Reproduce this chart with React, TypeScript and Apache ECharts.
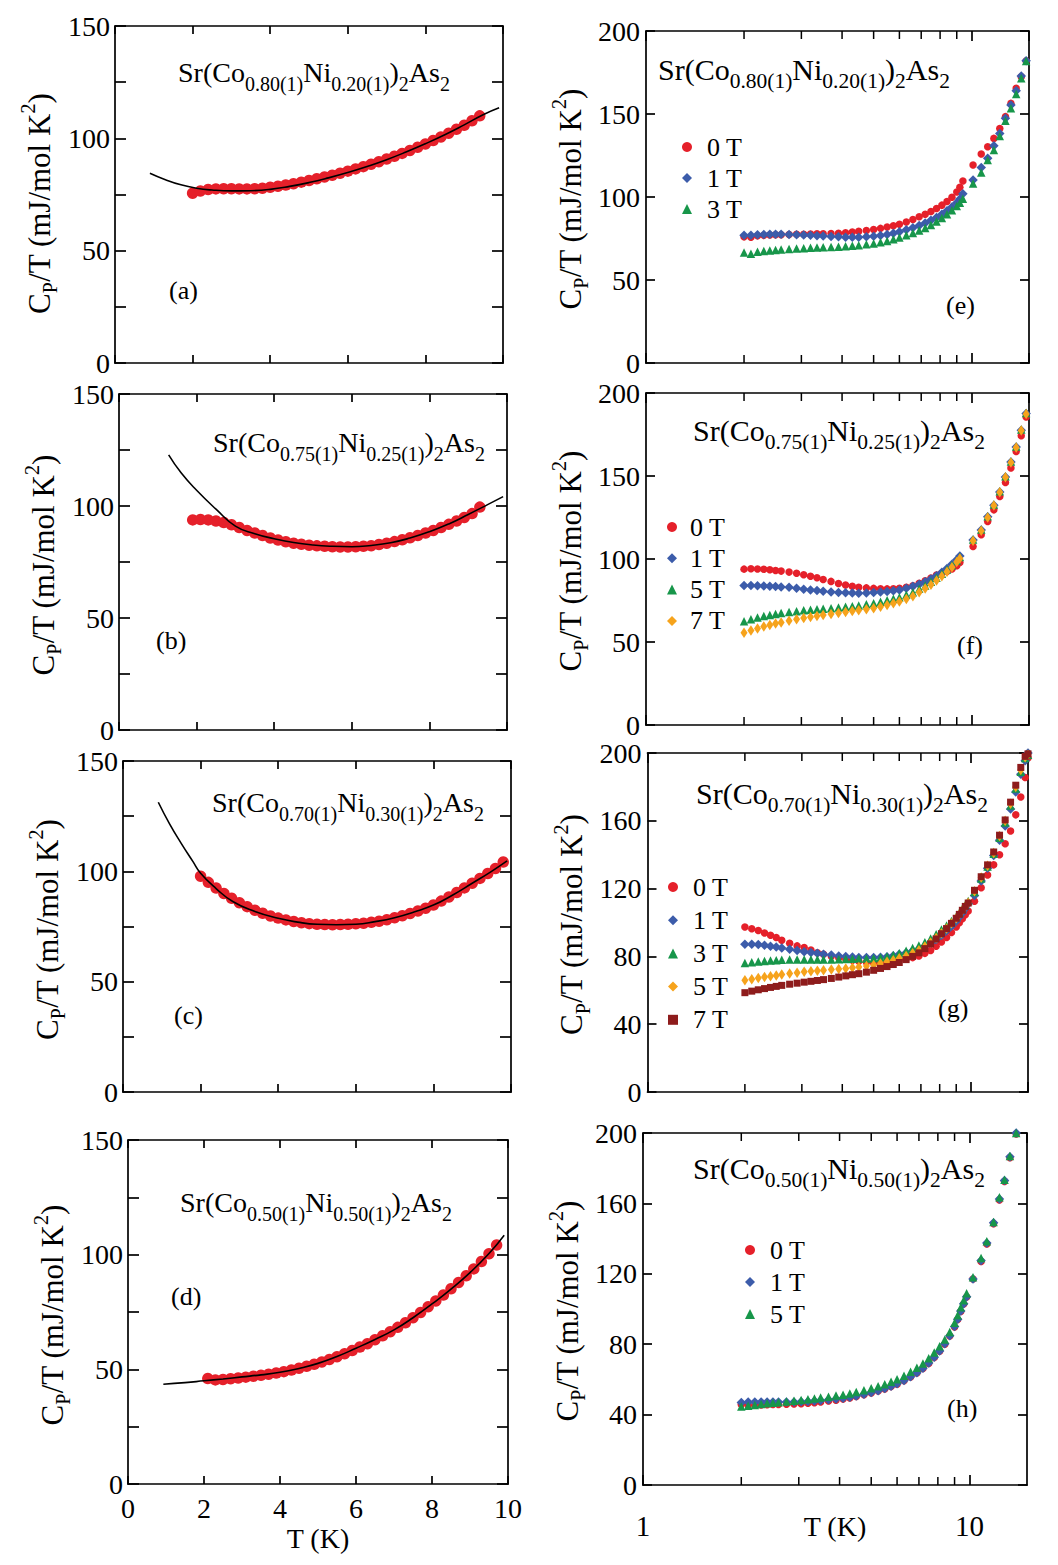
import React, { useEffect, useRef } from 'react';
import * as echarts from 'echarts';

const FONT = '"Liberation Serif", "Times New Roman", serif';
const INK = '#000';

// ---------- (a)-(d): zero-field C_P/T with fits ----------
const T_A = [2.0, 2.2, 2.4, 2.6, 2.8, 3.0, 3.2, 3.4, 3.6, 3.8, 4.0, 4.2, 4.4, 4.6, 4.8, 5.0, 5.2, 5.4, 5.6, 5.8, 6.0, 6.2, 6.4, 6.6, 6.8, 7.0, 7.2, 7.4, 7.6, 7.8, 8.0, 8.2, 8.4, 8.6, 8.8, 9.0, 9.2, 9.4];
const CP_A = [75.6, 76.6, 77.2, 77.5, 77.6, 77.6, 77.5, 77.5, 77.6, 77.8, 78.2, 78.7, 79.2, 79.8, 80.5, 81.2, 82.0, 82.8, 83.6, 84.5, 85.4, 86.4, 87.4, 88.5, 89.6, 90.8, 92.0, 93.3, 94.6, 96.0, 97.5, 99.0, 100.6, 102.3, 104.0, 105.8, 107.8, 110.0];
const T_A_FIT = [0.9, 1.3, 1.7, 2.1, 2.5, 3.0, 3.5, 4.0, 4.5, 5.0, 5.5, 6.0, 6.5, 7.0, 7.5, 8.0, 8.5, 9.0, 9.5, 9.9];
const CP_A_FIT = [84.5, 81.6, 79.3, 77.8, 77.0, 76.6, 76.7, 77.3, 78.6, 80.3, 82.4, 84.8, 87.5, 90.5, 93.9, 97.6, 101.6, 106.0, 110.6, 113.6];

const T_B = [1.9, 2.1, 2.3, 2.5, 2.7, 2.9, 3.1, 3.3, 3.5, 3.7, 3.9, 4.1, 4.3, 4.5, 4.7, 4.9, 5.1, 5.3, 5.5, 5.7, 5.9, 6.1, 6.3, 6.5, 6.7, 6.9, 7.1, 7.3, 7.5, 7.7, 7.9, 8.1, 8.3, 8.5, 8.7, 8.9, 9.1, 9.3];
const CP_B = [93.8, 94.0, 93.8, 93.3, 92.6, 91.6, 90.4, 89.1, 87.9, 86.8, 85.7, 84.8, 84.0, 83.4, 82.9, 82.5, 82.2, 82.0, 81.8, 81.7, 81.7, 81.8, 82.0, 82.3, 82.8, 83.4, 84.1, 84.9, 85.8, 86.8, 87.9, 89.1, 90.4, 91.8, 93.3, 94.9, 96.6, 99.5];
const T_B_FIT = [1.28, 1.6, 2.0, 2.5, 3.0, 3.5, 4.0, 4.5, 5.0, 5.5, 6.0, 6.5, 7.0, 7.5, 8.0, 8.5, 9.0, 9.5, 9.9];
const CP_B_FIT = [122.8, 114.8, 107.0, 98.6, 91.0, 87.6, 85.4, 83.7, 82.6, 82.0, 81.8, 82.4, 83.6, 85.7, 88.5, 92.0, 96.2, 100.6, 104.2];

const T_C = [2.0, 2.2, 2.4, 2.6, 2.8, 3.0, 3.2, 3.4, 3.6, 3.8, 4.0, 4.2, 4.4, 4.6, 4.8, 5.0, 5.2, 5.4, 5.6, 5.8, 6.0, 6.2, 6.4, 6.6, 6.8, 7.0, 7.2, 7.4, 7.6, 7.8, 8.0, 8.2, 8.4, 8.6, 8.8, 9.0, 9.2, 9.4, 9.6, 9.8];
const CP_C = [97.8, 95.0, 92.4, 90.0, 87.8, 85.8, 84.0, 82.4, 81.0, 79.8, 78.8, 78.0, 77.3, 76.7, 76.3, 76.0, 75.9, 75.8, 75.9, 76.0, 76.2, 76.5, 76.9, 77.4, 78.1, 79.0, 79.9, 80.9, 82.0, 83.3, 84.7, 86.5, 88.4, 90.4, 92.5, 94.6, 96.8, 99.0, 101.3, 104.2];
const T_C_FIT = [0.91, 1.2, 1.5, 1.8, 2.0, 2.4, 2.84, 3.4, 4.0, 4.5, 5.0, 5.5, 6.0, 6.5, 7.0, 7.5, 8.0, 8.5, 9.0, 9.5, 9.9];
const CP_C_FIT = [131.3, 121.5, 112.7, 104.5, 99.1, 92.2, 86.2, 81.8, 78.7, 77.0, 76.0, 75.8, 76.0, 77.2, 79.0, 81.6, 84.7, 89.3, 94.6, 100.0, 104.7];

const T_D = [2.1, 2.3, 2.5, 2.7, 2.9, 3.1, 3.3, 3.5, 3.7, 3.9, 4.1, 4.3, 4.5, 4.7, 4.9, 5.1, 5.3, 5.5, 5.7, 5.9, 6.1, 6.3, 6.5, 6.7, 6.9, 7.1, 7.3, 7.5, 7.7, 7.9, 8.1, 8.3, 8.5, 8.7, 8.9, 9.1, 9.3, 9.5, 9.7];
const CP_D = [46.0, 45.4, 45.6, 45.9, 46.2, 46.6, 47.0, 47.4, 47.9, 48.4, 49.0, 49.7, 50.5, 51.3, 52.2, 53.2, 54.3, 55.5, 56.8, 58.2, 59.7, 61.2, 62.9, 64.6, 66.4, 68.3, 70.3, 72.5, 74.8, 77.3, 79.8, 82.4, 85.1, 87.9, 90.8, 93.8, 97.0, 100.4, 104.2];
const T_D_FIT = [0.93, 1.5, 2.0, 2.5, 3.0, 3.5, 4.0, 4.5, 5.0, 5.5, 6.0, 6.5, 7.0, 7.5, 8.0, 8.5, 9.0, 9.5, 9.9];
const CP_D_FIT = [43.5, 44.2, 45.0, 45.8, 46.7, 47.6, 48.7, 50.4, 52.6, 55.6, 59.2, 63.0, 67.2, 72.5, 78.5, 85.0, 92.2, 100.5, 108.5];

// ---------- (e)-(h): field dependence on a log temperature axis ----------
const T_E = [2.0, 2.1, 2.2, 2.3, 2.4, 2.5, 2.6, 2.75, 2.9, 3.05, 3.2, 3.35, 3.5, 3.7, 3.9, 4.1, 4.3, 4.5, 4.75, 5.0, 5.25, 5.5, 5.75, 6.0, 6.3, 6.6, 6.9, 7.2, 7.5, 7.8, 8.1, 8.4, 8.7, 9.0, 9.2, 9.4, 10.1, 10.7, 11.2, 11.7, 12.2, 12.7, 13.2, 13.7, 14.2, 14.7];
const E_0T = [76.0, 75.8, 76.6, 76.9, 77.1, 77.2, 77.3, 77.4, 77.5, 77.6, 77.7, 77.8, 77.9, 78.0, 78.2, 78.5, 78.9, 79.3, 79.8, 80.4, 81.1, 81.9, 82.7, 83.6, 84.9, 86.4, 88.1, 89.6, 91.3, 93.1, 95.1, 97.3, 99.9, 103.0, 105.8, 109.6, 119.3, 125.9, 130.3, 135.3, 141.3, 148.4, 156.4, 165.5, 172.5, 182.0];
const E_1T = [77.0, 76.9, 77.2, 77.4, 77.5, 77.5, 77.5, 77.4, 77.3, 77.1, 76.9, 76.7, 76.5, 76.2, 76.0, 75.8, 75.8, 75.8, 76.0, 76.3, 76.8, 77.4, 78.1, 79.0, 80.2, 81.5, 82.9, 84.4, 86.0, 87.7, 89.6, 91.7, 94.0, 96.6, 98.8, 102.0, 110.2, 117.7, 123.3, 130.9, 138.3, 147.4, 155.4, 164.0, 172.9, 182.1];
const E_3T = [66.5, 65.8, 67.0, 67.4, 67.8, 68.1, 68.4, 68.7, 69.0, 69.2, 69.4, 69.6, 69.7, 69.9, 70.1, 70.4, 70.7, 71.0, 71.5, 72.0, 72.7, 73.5, 74.5, 75.6, 76.9, 78.3, 79.8, 81.4, 83.2, 85.2, 87.3, 89.6, 92.0, 94.6, 96.6, 98.9, 108.2, 114.7, 122.3, 128.3, 136.7, 146.0, 153.4, 162.0, 171.5, 182.0];

const T_F = [2.0, 2.1, 2.2, 2.3, 2.4, 2.5, 2.6, 2.75, 2.9, 3.05, 3.2, 3.35, 3.5, 3.7, 3.9, 4.1, 4.3, 4.5, 4.75, 5.0, 5.25, 5.5, 5.75, 6.0, 6.3, 6.6, 6.9, 7.2, 7.5, 7.8, 8.1, 8.4, 8.7, 9.0, 9.2, 10.1, 10.7, 11.2, 11.7, 12.2, 12.7, 13.2, 13.7, 14.2, 14.7];
const F_0T = [93.9, 94.1, 94.0, 93.8, 93.5, 93.1, 92.7, 92.1, 91.4, 90.5, 89.6, 88.7, 87.7, 86.5, 85.2, 84.3, 83.6, 83.0, 82.6, 82.3, 82.1, 82.0, 82.1, 82.4, 83.0, 83.9, 85.4, 86.9, 88.5, 90.4, 91.5, 92.5, 94.0, 96.0, 97.9, 107.5, 114.6, 122.6, 129.6, 137.7, 146.1, 154.8, 164.8, 174.3, 185.5];
const F_1T = [84.0, 84.0, 83.9, 83.8, 83.6, 83.4, 83.2, 83.0, 82.4, 81.8, 81.4, 81.0, 80.6, 80.1, 79.8, 79.6, 79.5, 79.4, 79.5, 79.8, 80.1, 80.4, 80.9, 81.4, 82.4, 83.6, 84.8, 86.3, 88.0, 89.9, 92.0, 94.3, 96.8, 99.6, 101.8, 111.4, 117.4, 125.4, 132.4, 140.4, 149.4, 158.4, 167.4, 177.6, 187.6];
const F_5T = [62.5, 63.7, 64.7, 65.6, 66.3, 66.9, 67.4, 68.0, 68.5, 69.1, 69.4, 69.7, 70.0, 70.4, 70.8, 71.2, 71.6, 72.0, 72.7, 73.4, 74.2, 75.1, 76.0, 77.0, 78.5, 80.0, 82.1, 84.1, 86.3, 88.7, 91.1, 93.6, 96.2, 99.0, 101.2, 111.8, 117.8, 125.8, 132.8, 140.8, 149.8, 158.8, 167.8, 178.0, 188.0];
const F_7T = [55.5, 56.9, 58.2, 59.4, 60.3, 61.1, 61.8, 62.8, 63.7, 64.5, 65.1, 65.7, 66.2, 66.8, 67.4, 68.0, 68.6, 69.2, 69.8, 70.4, 71.3, 72.3, 73.3, 74.4, 75.9, 77.6, 80.0, 82.2, 84.5, 87.0, 89.6, 92.3, 95.1, 98.2, 100.3, 111.0, 117.0, 125.0, 132.2, 140.2, 149.2, 158.2, 167.2, 177.4, 187.4];

const T_G = [2.0, 2.1, 2.2, 2.3, 2.4, 2.5, 2.6, 2.75, 2.9, 3.05, 3.2, 3.35, 3.5, 3.7, 3.9, 4.1, 4.3, 4.5, 4.75, 5.0, 5.25, 5.5, 5.75, 6.0, 6.3, 6.6, 6.9, 7.2, 7.5, 7.8, 8.1, 8.4, 8.7, 9.0, 9.2, 9.4, 9.6, 9.8, 10.25, 10.75, 11.25, 11.75, 12.25, 12.75, 13.25, 13.75, 14.25, 14.7, 15.0];
const G_0T = [97.3, 96.3, 95.3, 93.8, 92.5, 91.1, 89.5, 87.8, 86.2, 85.2, 83.8, 82.2, 81.2, 80.1, 79.2, 78.4, 77.8, 77.2, 76.6, 76.1, 76.2, 76.6, 77.1, 77.8, 78.5, 79.3, 80.3, 81.8, 83.5, 86.0, 88.5, 91.2, 94.1, 97.4, 99.8, 102.2, 104.5, 106.8, 112.5, 120.5, 128.0, 134.0, 140.0, 146.5, 154.0, 163.5, 174.0, 185.5, 197.0];
const G_1T = [87.1, 87.1, 87.0, 86.6, 86.0, 85.5, 85.0, 84.2, 83.5, 82.8, 82.3, 81.8, 81.3, 80.8, 80.3, 79.9, 79.6, 79.4, 79.3, 79.3, 79.5, 79.8, 80.4, 81.2, 82.1, 83.3, 84.4, 86.0, 87.9, 90.0, 92.5, 95.2, 97.8, 100.8, 103.2, 105.6, 108.2, 111.0, 116.0, 124.5, 132.0, 139.5, 148.5, 157.0, 167.0, 177.0, 187.5, 195.5, 200.0];
const G_3T = [76.1, 76.6, 77.0, 77.3, 77.6, 77.8, 78.0, 78.1, 78.1, 78.1, 78.1, 78.1, 78.1, 78.1, 78.3, 78.5, 78.6, 78.7, 78.8, 78.9, 79.3, 79.9, 80.8, 81.9, 83.3, 84.9, 86.4, 88.4, 90.6, 93.1, 95.8, 98.3, 100.9, 103.6, 105.8, 108.2, 110.5, 112.7, 118.0, 126.0, 133.0, 140.5, 150.0, 159.0, 169.0, 179.0, 189.0, 197.0, 199.0];
const G_5T = [65.9, 66.5, 67.2, 67.8, 68.3, 68.8, 69.3, 69.9, 70.4, 70.9, 71.2, 71.5, 71.8, 72.2, 72.6, 72.9, 73.3, 73.7, 74.3, 74.9, 75.8, 76.9, 77.8, 78.9, 80.3, 81.8, 83.7, 85.8, 88.2, 90.8, 93.6, 96.5, 99.5, 102.5, 104.8, 107.2, 109.5, 111.7, 118.5, 126.5, 133.5, 141.0, 151.0, 160.0, 170.0, 180.0, 190.0, 197.5, 199.0];
const G_7T = [58.6, 59.5, 60.3, 61.0, 61.7, 62.3, 62.9, 63.6, 64.2, 64.8, 65.3, 65.8, 66.3, 67.0, 67.8, 68.5, 69.2, 69.8, 70.7, 71.8, 72.9, 74.0, 75.2, 76.4, 78.1, 80.0, 82.1, 84.6, 87.4, 90.3, 93.4, 96.4, 99.5, 102.5, 104.8, 107.2, 109.5, 111.5, 119.0, 127.0, 134.0, 141.6, 151.5, 160.5, 171.0, 181.0, 191.5, 198.0, 199.5];

const T_H = [2.0, 2.1, 2.2, 2.3, 2.4, 2.5, 2.6, 2.75, 2.9, 3.05, 3.2, 3.35, 3.5, 3.7, 3.9, 4.1, 4.3, 4.5, 4.75, 5.0, 5.25, 5.5, 5.75, 6.0, 6.3, 6.6, 6.9, 7.2, 7.5, 7.8, 8.1, 8.4, 8.7, 9.0, 9.2, 9.4, 9.6, 9.8, 10.25, 10.85, 11.3, 11.85, 12.35, 12.8, 13.3, 13.9];
const H_0T = [45.8, 45.2, 45.4, 45.5, 45.6, 45.7, 45.8, 45.9, 46.0, 46.2, 46.5, 46.8, 47.2, 47.7, 48.2, 48.8, 49.5, 50.3, 51.3, 52.3, 53.4, 54.6, 55.9, 57.3, 59.2, 61.3, 63.6, 66.2, 69.1, 72.4, 76.0, 80.0, 84.6, 89.8, 94.0, 98.6, 102.8, 106.8, 117.0, 127.0, 137.0, 148.5, 162.0, 172.5, 186.0, 199.5];
const H_1T = [46.9, 47.2, 47.2, 47.2, 47.1, 47.1, 47.1, 47.1, 47.2, 47.3, 47.5, 47.7, 48.0, 48.4, 48.8, 49.3, 49.9, 50.6, 51.5, 52.5, 53.6, 54.8, 56.1, 57.5, 59.4, 61.5, 63.8, 66.4, 69.3, 72.6, 76.2, 80.2, 84.8, 90.0, 94.2, 98.8, 103.0, 107.0, 117.0, 127.6, 137.5, 149.0, 162.5, 173.0, 186.5, 200.0];
const H_5T = [44.6, 45.0, 45.5, 46.0, 46.4, 46.7, 47.0, 47.5, 47.9, 48.3, 48.7, 49.2, 49.7, 50.2, 50.8, 51.3, 52.0, 52.8, 53.8, 55.0, 56.1, 57.3, 58.6, 60.1, 62.1, 64.3, 66.6, 69.0, 72.0, 75.3, 78.8, 82.7, 86.9, 92.2, 96.5, 101.0, 105.0, 109.0, 118.0, 129.0, 138.5, 149.5, 163.5, 173.5, 187.0, 200.0];

const LOG_MINOR_TICKS = [2, 3, 4, 5, 6, 7, 8, 9];
const LOG_LABELS = [1, 10];
const COMPOSITIONS = [
  ['0.80(1)', '0.20(1)'],
  ['0.75(1)', '0.25(1)'],
  ['0.70(1)', '0.30(1)'],
  ['0.50(1)', '0.50(1)'],
];
const LEFT_LETTERS = ['(a)', '(b)', '(c)', '(d)'];
const RIGHT_LETTERS = ['(e)', '(f)', '(g)', '(h)'];
const T_AXIS_NAME = 'T (K)';

// ---------- styling and layout ----------
const RED = '#e5202a';
const BLUE = '#3c5caa';
const GREEN = '#17964a';
const ORANGE = '#f6a31c';
const MAROON = '#8e1c1c';

const MARKERS: Record<string, any> = {
  red: { symbol: 'circle', size: 7.5, color: RED },
  blue: { symbol: 'diamond', size: 9.5, color: BLUE },
  green: { symbol: 'triangle', size: 8.5, color: GREEN },
  orange: { symbol: 'diamond', size: [7, 10.5], color: ORANGE },
  maroon: { symbol: 'rect', size: 7, color: MAROON },
};

const LEFT_PANELS = [
  { T: T_A, cp: CP_A, fitT: T_A_FIT, fit: CP_A_FIT },
  { T: T_B, cp: CP_B, fitT: T_B_FIT, fit: CP_B_FIT },
  { T: T_C, cp: CP_C, fitT: T_C_FIT, fit: CP_C_FIT },
  { T: T_D, cp: CP_D, fitT: T_D_FIT, fit: CP_D_FIT },
];

const RIGHT_PANELS = [
  { key: 'e', T: T_E, fields: ['0 T', '1 T', '3 T'], values: [E_0T, E_1T, E_3T], markers: ['red', 'blue', 'green'], interval: 50 },
  { key: 'f', T: T_F, fields: ['0 T', '1 T', '5 T', '7 T'], values: [F_0T, F_1T, F_5T, F_7T], markers: ['red', 'blue', 'green', 'orange'], interval: 50 },
  { key: 'g', T: T_G, fields: ['0 T', '1 T', '3 T', '5 T', '7 T'], values: [G_0T, G_1T, G_3T, G_5T, G_7T], markers: ['red', 'blue', 'green', 'orange', 'maroon'], interval: 40 },
  { key: 'h', T: T_H, fields: ['0 T', '1 T', '5 T'], values: [H_0T, H_1T, H_5T], markers: ['red', 'blue', 'green'], interval: 40 },
];

const LEFT_GRIDS = [
  { left: 115, top: 26, width: 388, height: 337 },
  { left: 119, top: 394, width: 388, height: 336 },
  { left: 123, top: 761, width: 388, height: 331 },
  { left: 128, top: 1140, width: 380, height: 344 },
];
const RIGHT_GRIDS = [
  { left: 646, top: 31, width: 383, height: 332 },
  { left: 646, top: 393, width: 383, height: 332 },
  { left: 647.5, top: 753, width: 380.5, height: 339 },
  { left: 643, top: 1133, width: 384, height: 352 },
];
const LEFT_FORMULA_POS = [[178, 51.5], [213, 421.5], [212, 781.5], [180, 1181.5]];
const RIGHT_FORMULA_POS = [[658, 46.5], [693, 407.5], [696, 770.5], [693, 1145.5]];
const LEFT_LETTER_POS = [[169, 275], [156, 625], [174, 1000], [171, 1281]];
const RIGHT_LETTER_POS = [[946, 290], [957, 630], [938, 993], [947, 1393]];
const LEGEND_POS = [
  { left: 682, top: 134, textPad: 10, itemGap: 5 },
  { left: 667, top: 514, textPad: 8, itemGap: 5.3 },
  { left: 668, top: 874, textPad: 10, itemGap: 7.2 },
  { left: 745, top: 1237, textPad: 10, itemGap: 6 },
];

const pairs = (xs: number[], ys: number[]) => xs.map((x, i) => [x, ys[i]]);

const formulaText = ([co, ni]: string[]) =>
  `{m|Sr(Co}{s|${co}}{m|Ni}{s|${ni}}{m|)}{s|2}{m|As}{s|2}`;

const formulaRich = (main: number, sub: number, lh: number, slh: number) => ({
  m: { fontFamily: FONT, fontSize: main, lineHeight: lh, color: INK, fontWeight: 'normal' },
  s: { fontFamily: FONT, fontSize: sub, lineHeight: slh, color: INK, fontWeight: 'normal', verticalAlign: 'bottom' },
});

const Y_NAME = '{m|C}{s|P}{m|/T (mJ/mol K}{u|2}{m|)}';
const yNameStyle = (shift: number) => ({
  padding: shift > 0 ? [0, shift, 0, 0] : 0,
  rich: {
    m: { fontFamily: FONT, fontSize: 31, lineHeight: 42, color: INK },
    s: { fontFamily: FONT, fontSize: 20, lineHeight: 20, color: INK, verticalAlign: 'bottom' },
    u: { fontFamily: FONT, fontSize: 20, lineHeight: 20, color: INK, verticalAlign: 'top' },
  },
});

const lineStyle = { color: INK, width: 1.7 };

function buildOption() {
  const grid: any[] = [];
  const xAxis: any[] = [];
  const yAxis: any[] = [];
  const series: any[] = [];
  const title: any[] = [];
  const legend: any[] = [];

  // left column
  LEFT_PANELS.forEach((p, k) => {
    const gi = grid.length;
    grid.push(LEFT_GRIDS[k]);
    const isBottom = k === 3;
    const xBase = {
      gridIndex: gi, type: 'value', min: 0, max: 10, interval: 2,
      axisLine: { show: true, onZero: false, lineStyle },
      axisTick: { show: true, inside: true, length: 8, lineStyle },
      splitLine: { show: false },
    };
    xAxis.push({
      ...xBase, position: 'bottom',
      axisLabel: { show: isBottom, margin: 10, fontFamily: FONT, fontSize: 28, color: INK },
      name: isBottom ? T_AXIS_NAME : '', nameLocation: 'middle', nameGap: 40, nameMoveOverlap: false,
      nameTextStyle: { fontFamily: FONT, fontSize: 28, color: INK },
    });
    xAxis.push({ ...xBase, position: 'top', axisLabel: { show: false } });
    const yBase = {
      gridIndex: gi, type: 'value', min: 0, max: 150, interval: 25,
      axisLine: { show: true, onZero: false, lineStyle },
      axisTick: { show: true, inside: true, length: 11, lineStyle },
      splitLine: { show: false },
    };
    yAxis.push({
      ...yBase, position: 'left',
      axisLabel: {
        margin: 5, fontFamily: FONT, fontSize: 28, color: INK,
        formatter: (v: number) => (v % 50 === 0 ? String(v) : ''),
      },
      name: Y_NAME, nameLocation: 'middle', nameRotate: 90, nameGap: 55,
      nameTextStyle: yNameStyle(k === 0 ? 18 : 6),
    });
    yAxis.push({ ...yBase, position: 'right', axisLabel: { show: false } });

    series.push({
      type: 'scatter', xAxisIndex: 2 * gi, yAxisIndex: 2 * gi,
      symbol: 'circle', symbolSize: 11.5, itemStyle: { color: RED, opacity: 1 },
      data: pairs(p.T, p.cp), silent: true,
    });
    series.push({
      type: 'line', xAxisIndex: 2 * gi, yAxisIndex: 2 * gi, smooth: true,
      showSymbol: false, lineStyle: { color: INK, width: 1.6 },
      data: pairs(p.fitT, p.fit), silent: true,
    });

    title.push({
      left: LEFT_FORMULA_POS[k][0], top: LEFT_FORMULA_POS[k][1], padding: 0,
      text: formulaText(COMPOSITIONS[k]),
      textStyle: { fontWeight: 'normal', rich: formulaRich(28, 20, 42, 20) },
    });
    title.push({
      left: LEFT_LETTER_POS[k][0], top: LEFT_LETTER_POS[k][1], padding: 0,
      text: LEFT_LETTERS[k],
      textStyle: { fontFamily: FONT, fontSize: 26, fontWeight: 'normal', color: INK, lineHeight: 30 },
    });
  });

  // right column
  RIGHT_PANELS.forEach((p, k) => {
    const gi = grid.length;
    grid.push(RIGHT_GRIDS[k]);
    const isBottom = k === 3;
    const xBase = {
      gridIndex: gi, type: 'log', logBase: 10, min: 1, max: 15,
      axisLine: { show: true, onZero: false, lineStyle },
      axisTick: { show: true, inside: true, length: 10, lineStyle },
      splitLine: { show: false },
      minorTick: { show: false },
    };
    xAxis.push({
      ...xBase, position: 'bottom',
      axisLabel: {
        show: isBottom, margin: 26, fontFamily: FONT, fontSize: 29, color: INK,
        showMaxLabel: false,
        formatter: (v: number) => (LOG_LABELS.some((l) => Math.abs(l - v) < 1e-6) ? String(Math.round(v)) : ''),
      },
      name: isBottom ? T_AXIS_NAME : '', nameLocation: 'middle', nameGap: 27, nameMoveOverlap: false,
      nameTextStyle: { fontFamily: FONT, fontSize: 28, color: INK },
    });
    xAxis.push({ ...xBase, position: 'top', axisLabel: { show: false } });
    const yBase = {
      gridIndex: gi, type: 'value', min: 0, max: 200, interval: p.interval,
      axisLine: { show: true, onZero: false, lineStyle },
      axisTick: { show: true, inside: true, length: 9, lineStyle },
      splitLine: { show: false },
    };
    yAxis.push({
      ...yBase, position: 'left',
      axisLabel: { margin: 6, fontFamily: FONT, fontSize: 28, color: INK },
      name: Y_NAME, nameLocation: 'middle', nameRotate: 90, nameGap: 55,
      nameTextStyle: yNameStyle(4),
    });
    yAxis.push({ ...yBase, position: 'right', axisLabel: { show: false } });

    const names: string[] = [];
    p.fields.forEach((field, j) => {
      const mk = MARKERS[p.markers[j]];
      const name = `${field}@${p.key}`;
      names.push(name);
      series.push({
        name, type: 'scatter', xAxisIndex: 2 * gi, yAxisIndex: 2 * gi,
        symbol: mk.symbol, symbolSize: mk.size, itemStyle: { color: mk.color, opacity: 1 },
        data: pairs(p.T, p.values[j]), clip: false, silent: true,
      });
    });

    // intermediate decade ticks (2..9) on the bottom and top frame edges
    series.push({
      type: 'custom', xAxisIndex: 2 * gi, yAxisIndex: 2 * gi, silent: true, clip: false,
      data: LOG_MINOR_TICKS.map((t) => [t, 0]),
      renderItem: (_params: any, api: any) => {
        const t = api.value(0);
        const b = api.coord([t, 0]);
        const tp = api.coord([t, 200]);
        const st = { stroke: INK, lineWidth: 1.5 };
        return {
          type: 'group',
          children: [
            { type: 'line', shape: { x1: b[0], y1: b[1], x2: b[0], y2: b[1] - 8 }, style: st },
            { type: 'line', shape: { x1: tp[0], y1: tp[1], x2: tp[0], y2: tp[1] + 8 }, style: st },
          ],
        };
      },
    });

    const lp = LEGEND_POS[k];
    legend.push({
      orient: 'vertical', left: lp.left, top: lp.top, padding: 0,
      itemWidth: 10, itemHeight: 10, itemGap: lp.itemGap,
      selectedMode: false, data: names,
      formatter: (n: string) => n.split('@')[0],
      textStyle: { fontFamily: FONT, fontSize: 26, color: INK, lineHeight: 26, padding: [0, 0, 0, lp.textPad] },
    });

    title.push({
      left: RIGHT_FORMULA_POS[k][0], top: RIGHT_FORMULA_POS[k][1], padding: 0,
      text: formulaText(COMPOSITIONS[k]),
      textStyle: { fontWeight: 'normal', rich: formulaRich(30, 21.5, 45, 22) },
    });
    title.push({
      left: RIGHT_LETTER_POS[k][0], top: RIGHT_LETTER_POS[k][1], padding: 0,
      text: RIGHT_LETTERS[k],
      textStyle: { fontFamily: FONT, fontSize: 26, fontWeight: 'normal', color: INK, lineHeight: 30 },
    });
  });

  return {
    animation: false,
    backgroundColor: '#ffffff',
    textStyle: { fontFamily: FONT },
    title, legend, grid, xAxis, yAxis, series,
  };
}

export default function App() {
  const ref = useRef<HTMLDivElement>(null);
  useEffect(() => {
    if (!ref.current) return;
    const chart = echarts.init(ref.current, null, { renderer: 'svg' });
    chart.setOption(buildOption() as any);
    return () => chart.dispose();
  }, []);
  return (
    <div
      ref={ref}
      style={{ position: 'absolute', left: 0, top: 0, width: 1058, height: 1565, background: '#fff' }}
    />
  );
}
